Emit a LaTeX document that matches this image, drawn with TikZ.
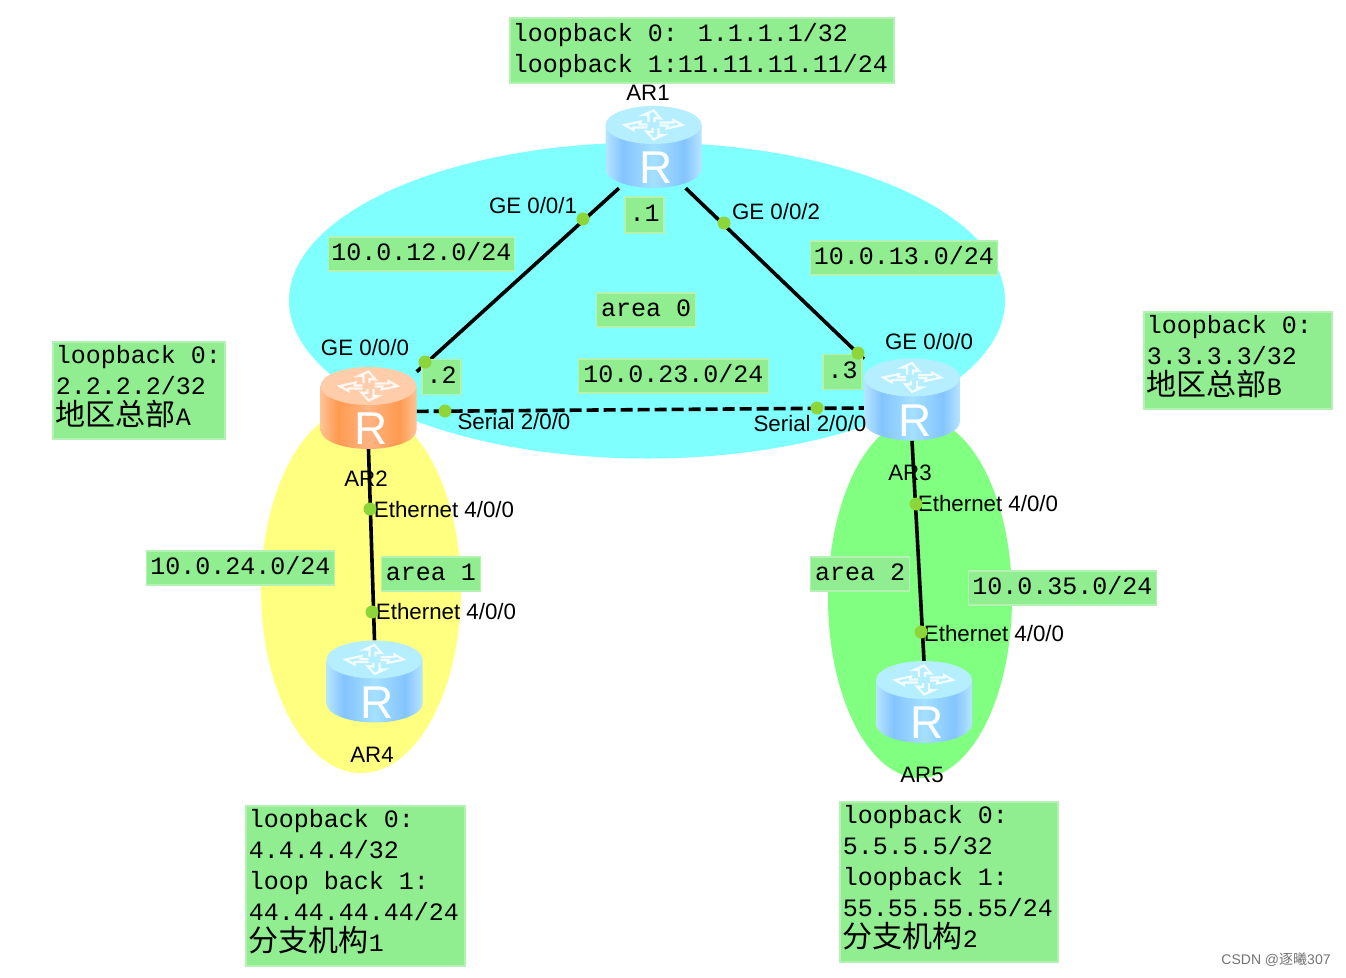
\documentclass[tikz,border=0pt]{standalone}
\usepackage{fontspec}
\setmainfont{Liberation Sans}
\newfontfamily\labelmono{Liberation Mono}
\newfontfamily\cjkfont{Noto Sans CJK SC}
\usetikzlibrary{backgrounds,shapes.geometric}

\definecolor{areacyan}{HTML}{80FFFF}
\definecolor{areayellow}{HTML}{FFFF80}
\definecolor{areagreen}{HTML}{80FF80}
\definecolor{boxgreen}{HTML}{90EE90}
\definecolor{boxedge}{HTML}{B4F2B4}
\definecolor{portgreen}{HTML}{8CD63A}
\definecolor{blueedge}{HTML}{B6E6FF}
\definecolor{bluedark}{HTML}{84C4FF}
\definecolor{bluemid}{HTML}{A4E0FF}
\definecolor{bluetop}{HTML}{B4EEFF}
\definecolor{orangeedge}{HTML}{FFC294}
\definecolor{orangedark}{HTML}{FF9A50}
\definecolor{orangemid}{HTML}{FFB482}
\definecolor{orangetop}{HTML}{FFCDAA}

\pgfdeclarehorizontalshading{sideblue}{100bp}{
    color(0bp)=(blueedge); color(25bp)=(blueedge); color(34bp)=(bluedark);
    color(50bp)=(bluemid); color(66bp)=(bluedark); color(75bp)=(blueedge);
    color(100bp)=(blueedge)}
\pgfdeclarehorizontalshading{sideorange}{100bp}{
    color(0bp)=(orangeedge); color(25bp)=(orangeedge); color(34bp)=(orangedark);
    color(50bp)=(orangemid); color(66bp)=(orangedark); color(75bp)=(orangeedge);
    color(100bp)=(orangeedge)}

\tikzset{
    x=1pt, y=-1pt,
    areazone/.style={ellipse, inner sep=0pt, draw=none, minimum width=#1},
    routernode/.style={rectangle, inner sep=0pt, minimum width=96pt, minimum height=82pt},
    link/.style={draw=black, line width=3.6pt},
    seriallink/.style={link, dash pattern=on 12pt off 5pt},
    portdot/.style={circle, fill=portgreen, inner sep=0pt, minimum size=13pt},
    portlabel/.style={font=\fontsize{22.3}{25}\selectfont, inner sep=0pt},
    netbox/.style={fill=boxgreen, draw=boxedge, line width=1.5pt, inner sep=0pt,
                   text height=16pt, text depth=4pt,
                   font=\labelmono\fontsize{25}{31}\selectfont},
    infobox/.style={netbox, anchor=north west, align=flush left, inner xsep=3pt,
                    text width=#1, text height=, text depth=}
}

% one router: name, position, side shading, top colour
\newcommand{\router}[4]{
    \node[routernode] (#1) at (#2) {};
    \begin{scope}[shift={(#2)}]
        \shade[shading=#3] (-48,-22) -- (-48,22) arc[start angle=180, end angle=0, x radius=48, y radius=19]
            -- (48,-22) -- cycle;
        \fill[#4] (0,-22) ellipse[x radius=48, y radius=19];
        \foreach \turn in {0,90,180,270}{
            \begin{scope}[shift={(0,-22)}, yscale=0.5, rotate=\turn]
                \draw[white, opacity=0.85, line width=2.2pt, line join=miter] (6,-5) -- (20,-5) -- (20,-10) -- (29,0) -- (13,7) -- (14,1) -- (6,1);
            \end{scope}
        }
        \node[text=white, inner sep=0pt, font=\fontsize{46}{46}\selectfont] (#1r) at (3,21) {R};
    \end{scope}
}
% Chinese line at the foot of a loopback box
\newcommand{\cjkline}[1]{{\cjkfont\fontsize{30}{31}\selectfont #1}\rule[-10pt]{0pt}{10pt}}

\begin{document}
\begin{tikzpicture}
    \useasboundingbox (0,0) rectangle (1346,977);

    % Areas
    \begin{scope}[on background layer]
        \node[areazone=200pt, fill=areayellow, minimum height=366pt] (area1zone) at (361,590) {};
        \node[areazone=184pt, fill=areagreen, minimum height=360pt] (area2zone) at (920,598) {};
        \node[areazone=716pt, fill=areacyan, minimum height=316pt] (area0zone) at (647,300.5) {};
    \end{scope}

    % Routers
    \router{ar1}{653.5,147}{sideblue}{bluetop}
    \router{ar2}{368.5,408}{sideorange}{orangetop}
    \router{ar3}{912,399.5}{sideblue}{bluetop}
    \router{ar4}{374.5,681.5}{sideblue}{bluetop}
    \router{ar5}{924,702}{sideblue}{bluetop}

    % Links
    \begin{scope}[on background layer]
        \path[link] (ar1.230) edge (ar2.37);
        \path[link] (ar1.-52) edge (ar3.140);
        \path[seriallink] (ar2.-4) edge (ar3.190);
        \path[link] (ar2.south) edge (ar4.north);
        \path[link] (ar3.south) edge (ar5.north);
    \end{scope}

    % Router names
    \node[portlabel] (name1) at (648,93) {AR1};
    \node[portlabel] (name2) at (366,479) {AR2};
    \node[portlabel] (name3) at (910,473) {AR3};
    \node[portlabel] (name4) at (372,755) {AR4};
    \node[portlabel] (name5) at (922,775) {AR5};

    % Port labels
    \node[portlabel] (ge1a) at (533,206) {GE 0/0/1};
    \node[portlabel] (ge1b) at (776,212) {GE 0/0/2};
    \node[portlabel] (ge2) at (365,348) {GE 0/0/0};
    \node[portlabel] (ge3) at (929,342) {GE 0/0/0};
    \node[portlabel] (ser2) at (514,422) {Serial 2/0/0};
    \node[portlabel] (ser3) at (810,424) {Serial 2/0/0};
    \node[portlabel] (eth2) at (444,510) {Ethernet 4/0/0};
    \node[portlabel] (eth4) at (446,612) {Ethernet 4/0/0};
    \node[portlabel] (eth3) at (988,504) {Ethernet 4/0/0};
    \node[portlabel] (eth5) at (994,634) {Ethernet 4/0/0};

    % Networks and addresses
    \node[netbox, minimum width=39pt, minimum height=36pt] (addr1) at (644.5,215) {.1};
    \node[netbox, minimum width=39pt, minimum height=35pt] (addr2) at (441.5,377) {.2};
    \node[netbox, minimum width=39pt, minimum height=35pt] (addr3) at (842.5,372) {.3};
    \node[netbox, minimum width=186pt, minimum height=34pt] (net12) at (421.5,254) {10.0.12.0/24};
    \node[netbox, minimum width=187pt, minimum height=34pt] (net13) at (904,258) {10.0.13.0/24};
    \node[netbox, minimum width=190pt, minimum height=34pt] (net23) at (673.5,376) {10.0.23.0/24};
    \node[netbox, minimum width=188pt, minimum height=34pt] (net24) at (240.5,568) {10.0.24.0/24};
    \node[netbox, minimum width=188pt, minimum height=34pt] (net35) at (1062.5,588) {10.0.35.0/24};
    \node[netbox, minimum width=99pt, minimum height=34pt] (area0) at (646,310) {area 0};
    \node[netbox, minimum width=99pt, minimum height=34pt] (area1) at (431,574) {area 1};
    \node[netbox, minimum width=99pt, minimum height=34pt] (area2) at (860,574) {area 2};

    % Ports
    \node[portdot] (p12) at (583,219) {};
    \node[portdot] (p13) at (724,223) {};
    \node[portdot] (p21) at (425,362) {};
    \node[portdot] (p31) at (858,353) {};
    \node[portdot] (p23) at (445,411) {};
    \node[portdot] (p32) at (817,408) {};
    \node[portdot] (p24) at (370,509) {};
    \node[portdot] (p42) at (372,612) {};
    \node[portdot] (p35) at (916,504) {};
    \node[portdot] (p53) at (921,632) {};

    % Loopbacks
    \node[infobox=378pt, minimum height=65pt] (loop1) at (509,17) {loopback 0: 1.1.1.1/32\\loopback 1:11.11.11.11/24};
    \node[infobox=166pt, minimum height=97pt] (loop2) at (52,341) {loopback 0:\\2.2.2.2/32\\\cjkline{地区总部}A};
    \node[infobox=182pt, minimum height=97pt] (loop3) at (1143,311) {loopback 0:\\3.3.3.3/32\\\cjkline{地区总部}B};
    \node[infobox=213pt, minimum height=160pt] (loop4) at (245,805) {loopback 0:\\4.4.4.4/32\\loop back 1:\\44.44.44.44/24\\\cjkline{分支机构}1};
    \node[infobox=212pt, minimum height=160pt] (loop5) at (839,801) {loopback 0:\\5.5.5.5/32\\loopback 1:\\55.55.55.55/24\\\cjkline{分支机构}2};

    \node[text=black!55, inner sep=0pt, font=\fontsize{14}{16}\selectfont] (mark) at (1276,960) {CSDN @{\cjkfont 逐曦}307};
\end{tikzpicture}
\end{document}
